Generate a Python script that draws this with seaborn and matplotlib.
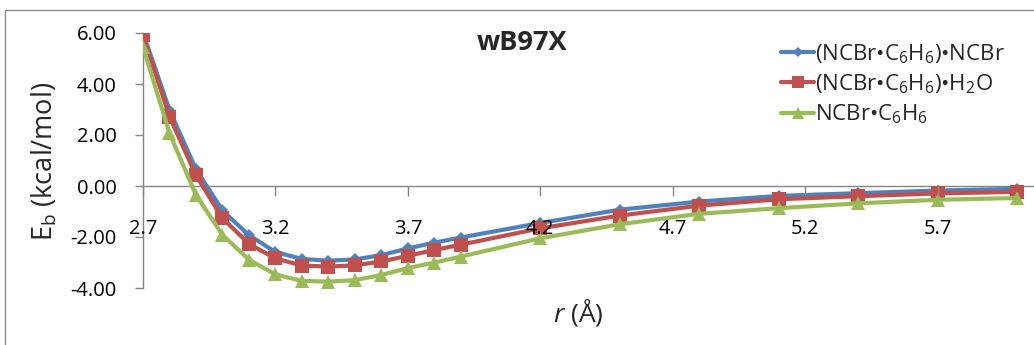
import matplotlib
matplotlib.use("Agg")
import matplotlib.pyplot as plt
import seaborn as sns
import pandas as pd
from matplotlib.patches import Rectangle
from matplotlib.lines import Line2D

# ---- data ----
r_values = [2.7, 2.8, 2.9, 3.0, 3.1, 3.2, 3.3, 3.4, 3.5, 3.6, 3.7, 3.8, 3.9,
            4.2, 4.5, 4.8, 5.1, 5.4, 5.7, 6.0]
eb_ncbr = [6.00, 2.98, 0.65, -0.96, -1.93, -2.59, -2.86, -2.93, -2.88, -2.71,
           -2.45, -2.22, -2.02, -1.45, -0.93, -0.61, -0.39, -0.28, -0.18, -0.11]
eb_h2o = [5.92, 2.72, 0.42, -1.26, -2.27, -2.84, -3.12, -3.16, -3.11, -2.96,
          -2.74, -2.51, -2.30, -1.66, -1.16, -0.77, -0.52, -0.40, -0.29, -0.23]
eb_dimer = [5.46, 2.07, -0.35, -1.92, -2.89, -3.47, -3.72, -3.75, -3.69, -3.49,
            -3.22, -3.00, -2.77, -2.05, -1.50, -1.09, -0.87, -0.68, -0.54, -0.47]
series_labels = [r"(NCBr•C$_6$H$_6$)•NCBr", r"(NCBr•C$_6$H$_6$)•H$_2$O", r"NCBr•C$_6$H$_6$"]
x_ticks = [2.7, 3.2, 3.7, 4.2, 4.7, 5.2, 5.7]
x_tick_labels = ["2.7", "3.2", "3.7", "4.2", "4.7", "5.2", "5.7"]
y_ticks = [-4, -2, 0, 2, 4, 6]
y_tick_labels = ["-4.00", "-2.00", "0.00", "2.00", "4.00", "6.00"]
title_text = "wB97X"

colors = ["#4F81BD", "#C0504D", "#9BBB59"]
markers = ["D", "s", "^"]
msizes = [6, 10, 10]

sns.set_theme(style="white")
FONT = "Open Sans"
plt.rcParams["font.family"] = [FONT, "DejaVu Sans"]
plt.rcParams["mathtext.fontset"] = "custom"
plt.rcParams["mathtext.rm"] = FONT
plt.rcParams["mathtext.it"] = FONT + ":italic"
plt.rcParams["axes.unicode_minus"] = False

W, H = 1034, 345
fig = plt.figure(figsize=(W / 100, H / 100), dpi=100)

# chart border (cropped on right and bottom)
fig.patches.append(Rectangle((5 / W, -0.2), 1.5, 1.2 - 10 / H,
                             transform=fig.transFigure, fill=False,
                             edgecolor="#8c8c8c", linewidth=1.0))

left_px, right_px, top_px, bot_px = 143, 1070, 33, 288
ax = fig.add_axes([left_px / W, 1 - bot_px / H, (right_px - left_px) / W, (bot_px - top_px) / H])
ax.patch.set_alpha(0)
ax.set_axisbelow(False)  # axis (tick labels) drawn above the data lines, as in the reference

df = pd.DataFrame({
    "r": r_values * 3,
    "Eb": eb_ncbr + eb_h2o + eb_dimer,
    "series": [series_labels[0]] * len(r_values) + [series_labels[1]] * len(r_values)
              + [series_labels[2]] * len(r_values),
})

for i, lab in enumerate(series_labels):
    sub = df[df["series"] == lab]
    sns.lineplot(data=sub, x="r", y="Eb", ax=ax, color=colors[i], linewidth=3,
                 marker=markers[i], markersize=msizes[i], markeredgewidth=0,
                 markeredgecolor=colors[i], sort=True, estimator=None,
                 legend=False, zorder=2.0 + 0.1 * i, clip_on=True)

ax.set_xlim(2.7, 6.2)
ax.set_ylim(-4, 6)

for s in ["top", "right"]:
    ax.spines[s].set_visible(False)
ax.spines["left"].set_color("#868686")
ax.spines["bottom"].set_color("#868686")
ax.spines["left"].set_linewidth(1.0)
ax.spines["bottom"].set_linewidth(1.0)
ax.spines["bottom"].set_position(("data", 0))
ax.spines["bottom"].set_zorder(1.5)
ax.spines["left"].set_zorder(1.5)

ax.set_xticks(x_ticks)
ax.set_xticklabels(x_tick_labels)
ax.set_yticks(y_ticks)
ax.set_yticklabels(y_tick_labels)
ax.tick_params(axis="x", direction="out", length=7, width=1, color="#868686",
               pad=17, labelsize=14.5, labelcolor="#000000", bottom=True)
ax.tick_params(axis="y", direction="out", length=6, width=1, color="#868686",
               pad=13, labelsize=14.5, labelcolor="#000000", left=True)
ax.grid(False)

ax.set_xlabel("")
ax.set_ylabel("")
fig.text(45 / W, 1 - 161 / H, r"E$_\mathrm{b}$ (kcal/mol)", rotation=90,
         ha="center", va="center", fontsize=19.5)
fig.text(578 / W, 1 - 312 / H, r"$\mathit{r}$ (Å)", ha="center", va="center", fontsize=19)
fig.text(522 / W, 1 - 43 / H, title_text, ha="center", va="center",
         fontsize=19.5, fontweight="bold")

handles = [Line2D([0], [0], color=colors[i], linewidth=3, marker=markers[i],
                  markersize=msizes[i] * 0.8, markeredgewidth=0) for i in range(3)]
fig.legend(handles, series_labels, loc="upper left",
           bbox_to_anchor=(781 / W, 1 - 42 / H), frameon=False, fontsize=16,
           handlelength=1.5, handletextpad=0.05, labelspacing=0.3,
           borderaxespad=0, borderpad=0)

fig.savefig("out.png", dpi=100)
